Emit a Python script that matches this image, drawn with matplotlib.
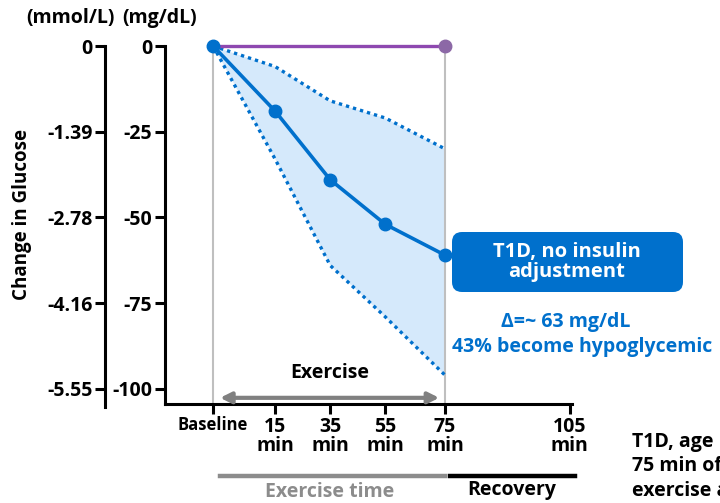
import matplotlib
matplotlib.use("Agg")
import matplotlib.pyplot as plt
from matplotlib.patches import FancyBboxPatch
from matplotlib.lines import Line2D

plt.rcParams["font.family"] = ["Open Sans", "DejaVu Sans"]
plt.rcParams["font.weight"] = "bold"

# data (mg/dL change from baseline)
time_labels = ["Baseline", "15\nmin", "35\nmin", "55\nmin", "75\nmin", "105\nmin"]
tick_pos = [0, 1.07, 2.02, 2.97, 4.0, 6.15]
mean_change = [0, -19, -39, -52, -61]
upper_bound = [0, -6, -16, -21, -30]
lower_bound = [0, -33, -64, -79, -96]
control_x = [0, 4.0]
control_change = [0, 0]
mgdl_ticks = [0, -25, -50, -75, -100]
mmol_labels = ["0", "-1.39", "-2.78", "-4.16", "-5.55"]

BLUE = "#0070CC"
FILL = "#D5E9FB"
PURPLE = "#8E48B0"
GREY = "#BFBFBF"
DGREY = "#8C8C8C"
FS = 14

fig = plt.figure(figsize=(7.2, 5.03), dpi=100)

ax = fig.add_axes([165/720, 1 - 404/503, (572-165)/720, (404-46)/503])
ax.set_xlim(-0.83, 6.19)
ax.set_ylim(-104.4, 0)

xs = tick_pos[:5]
ax.fill_between(xs, upper_bound, lower_bound, color=FILL, lw=0, zorder=1)
ax.plot(xs, upper_bound, ls=(0, (1, 1.2)), color=BLUE, lw=2.4, zorder=2)
ax.plot(xs, lower_bound, ls=(0, (1, 1.2)), color=BLUE, lw=2.4, zorder=2)
for xv in (0, 4.0):
    ax.plot([xv, xv], [-104.4, 0], color=GREY, lw=1.5, zorder=1.5)
ax.plot(control_x, control_change, color=PURPLE, lw=2.4, zorder=3, clip_on=False)
ax.plot(control_x[-1], control_change[-1], "o", color="#8C68A6", ms=9, zorder=4, clip_on=False)
ax.plot(xs, mean_change, "-o", color=BLUE, lw=2.6, ms=9, zorder=5, clip_on=False)

ax.annotate("", xy=(0.12, -102.6), xytext=(3.9, -102.6),
            arrowprops=dict(arrowstyle="<|-|>", color="#808080", lw=3,
                            mutation_scale=16, shrinkA=0, shrinkB=0))
ax.text(2.02, -95.3, "Exercise", ha="center", va="center", fontsize=FS, fontweight="bold")

for s in ["top", "right"]:
    ax.spines[s].set_visible(False)
for s in ["left", "bottom"]:
    ax.spines[s].set_linewidth(2.2)
ax.set_yticks(mgdl_ticks)
ax.set_yticklabels([str(v) for v in mgdl_ticks], fontsize=FS, fontweight="bold")
ax.set_xticks(tick_pos)
ax.set_xticklabels(time_labels, fontsize=FS, fontweight="bold", linespacing=0.95)
ax.get_xticklabels()[0].set_fontsize(12)
ax.tick_params(axis="both", width=2.2, length=7, pad=2)

# second y axis (mmol/L)
ax2 = fig.add_axes([105/720, 1 - 407/503, 0.001, (407-46)/503])
ax2.set_ylim(-104.4 - 3/3.43, 0)
ax2.set_xticks([])
for s in ["top", "right", "bottom"]:
    ax2.spines[s].set_visible(False)
ax2.spines["left"].set_linewidth(2.2)
ax2.set_yticks(mgdl_ticks)
ax2.set_yticklabels(mmol_labels, fontsize=FS, fontweight="bold")
ax2.tick_params(axis="y", width=2.2, length=7, pad=2)
ax2.patch.set_visible(False)

fig.text(70/720, 1 - 18/503, "(mmol/L)", ha="center", va="center", fontsize=FS, fontweight="bold")
fig.text(160/720, 1 - 18/503, "(mg/dL)", ha="center", va="center", fontsize=FS, fontweight="bold")
fig.text(22/720, 1 - 215/503, "Change in Glucose", rotation=90, ha="center", va="center",
         fontsize=13.5, fontweight="bold")

# phase bars under the axis
fig.add_artist(Line2D([220/720, 445/720], [1 - 476/503] * 2, color=DGREY, lw=3.2))
fig.add_artist(Line2D([450/720, 575/720], [1 - 476/503] * 2, color="black", lw=3.2))
fig.text(330/720, 1 - 492/503, "Exercise time", ha="center", va="center", fontsize=FS,
         fontweight="bold", color=DGREY)
fig.text(512/720, 1 - 490/503, "Recovery", ha="center", va="center", fontsize=FS,
         fontweight="bold", color="black")

# callout box
box = FancyBboxPatch((4.52, 2.11), 2.31, 0.60, boxstyle="round,pad=0,rounding_size=0.1",
                     transform=fig.dpi_scale_trans, facecolor=BLUE, edgecolor="none")
fig.add_artist(box)
fig.text(567/720, 1 - 262/503, "T1D, no insulin\nadjustment", ha="center", va="center",
         fontsize=14.5, fontweight="bold", color="white", linespacing=1.0)
fig.text(566/720, 1 - 322/503, "\u0394=~ 63 mg/dL", ha="center", va="center", fontsize=FS,
         fontweight="bold", color=BLUE)
fig.text(452/720, 1 - 347/503, "43% become hypoglycemic", ha="left", va="center", fontsize=FS,
         fontweight="bold", color=BLUE)

fig.text(632/720, 1 - 466/503, "T1D, age\n75 min of\nexercise a", ha="left", va="center",
         fontsize=FS, fontweight="bold", linespacing=1.3)

fig.savefig("out.png", dpi=100)
